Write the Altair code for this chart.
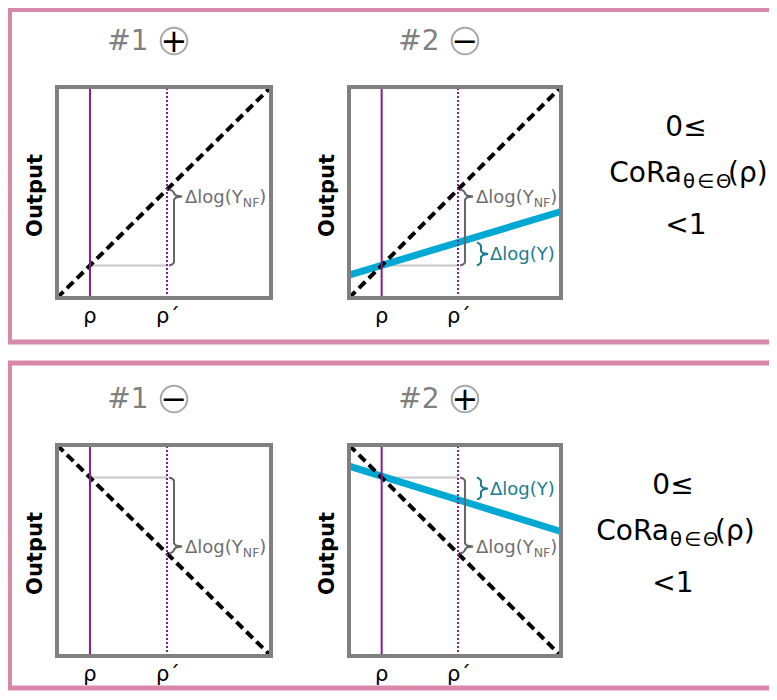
import altair as alt
import pandas as pd

# ---------------- values ----------------
row_ids = [0, 1]
panel_ids = [0, 1]
panel_titles = ["#1", "#2"]
panel_signs = [["+", "\u2212"], ["\u2212", "+"]]   # [row][panel]
rho_x = 0.154          # position of rho on the panel x axis (0..1)
rho_prime_x = 0.514    # position of rho'
dashed_y_left = [0.0, 1.0]    # no-feedback line: y at x=0, per row
dashed_y_right = [1.0, 0.0]   # y at x=1
blue_y_left = [0.108, 0.90]   # response line in panel #2, per row
blue_y_right = [0.41, 0.59]
x_tick_labels = ["ρ", "ρ\u00b4"]
y_title = "Output"
bound_low = "0≤"
bound_high = "<1"
cora_main = "CoRa"
cora_sub = "θ\u200a∈\u200aΘ"
cora_arg = "(ρ)"
nf_main = "Δlog(Y"
nf_sub = "NF"
nf_close = ")"
dy_label = "Δlog(Y)"

# ---------------- layout (page pixels) ----------------
OX, OY = 8, 8
W_SVG, H_SVG = 761, 684
ROW_DY = 358
BOX_X = [(57, 271), (349, 561)]
BOX_Y = (87, 298)
PINK_ROWS = [(9.5, 342), (363, 688)]
PINK_X = (9.5, 830)
TITLE_X = [128, 419]
CIRCLE_X = [174, 465]
RIGHT_X = [686, 673]
CORA_ANCHOR = [682, 669]
CORA_PAREN = [728, 715]

PINK = "#d888a8"
BOXGRAY = "#808080"
PURPLE = "#8b1a8b"
BLUE = "#00a9d4"
TEAL = "#1b7d8e"
LABELGRAY = "#6f6f6f"
FONT = "DejaVu Sans"

# DejaVu Sans advance widths (em)
WID = {'Δ': 0.684, 'l': 0.278, 'o': 0.612, 'g': 0.635, '(': 0.390, ')': 0.390,
       'Y': 0.611, 'N': 0.748, 'F': 0.575}


def tw(s, size):
    return sum(WID.get(c, 0.6) for c in s) * size


def px(p, x):
    l, r = BOX_X[p]
    return l + x * (r - l)


def py(r, y):
    t, b = BOX_Y
    return b + r * ROW_DY - y * (b - t)


XS = alt.Scale(domain=[OX, OX + W_SVG], nice=False, zero=False)
YS = alt.Scale(domain=[OY, OY + H_SVG], nice=False, zero=False, reverse=True)


def enc_xy(extra2=True):
    d = dict(x=alt.X("x:Q", scale=XS, axis=None), y=alt.Y("y:Q", scale=YS, axis=None))
    if extra2:
        d["x2"] = "x2:Q"
        d["y2"] = "y2:Q"
    return d


# ---------------- build tables ----------------
pink = pd.DataFrame([dict(x=PINK_X[0], x2=PINK_X[1], y=a, y2=b) for a, b in PINK_ROWS])

boxes, hlines, blues, dashes, solid_v, dotted_v = [], [], [], [], [], []
braces_gray, braces_teal = [], []
circles = []
t_title, t_sign, t_out, t_rho_c, t_rho_l = [], [], [], [], []
t_nf_main, t_nf_sub, t_teal = [], [], []
t_right_c, t_cora_main, t_cora_sub, t_cora_arg = [], [], [], []


def brace(lst, bid, xe, xv, xt, ya, yb, yt):
    s = 1 if yb > ya else -1
    pts = [(xe, ya), (xv - 2, ya + s * 1), (xv, ya + s * 3), (xv, yt - s * 3),
           (xv + 2, yt - s * 1), (xt, yt), (xv + 2, yt + s * 1), (xv, yt + s * 3),
           (xv, yb - s * 3), (xv - 2, yb - s * 1), (xe, yb)]
    for i, (a, b) in enumerate(pts):
        lst.append(dict(id=bid, i=i, x=a, y=b))


for r in row_ids:
    yd_rho = dashed_y_left[r] + (dashed_y_right[r] - dashed_y_left[r]) * rho_x
    yd_rp = dashed_y_left[r] + (dashed_y_right[r] - dashed_y_left[r]) * rho_prime_x
    yb_rp = blue_y_left[r] + (blue_y_right[r] - blue_y_left[r]) * rho_prime_x
    for p in panel_ids:
        boxes.append(dict(x=px(p, 0), x2=px(p, 1), y=py(r, 1), y2=py(r, 0)))
        dashes.append(dict(x=px(p, 0), x2=px(p, 1), y=py(r, dashed_y_left[r]), y2=py(r, dashed_y_right[r])))
        solid_v.append(dict(x=px(p, rho_x), x2=px(p, rho_x), y=py(r, 0), y2=py(r, 1)))
        dotted_v.append(dict(x=px(p, rho_prime_x), x2=px(p, rho_prime_x), y=py(r, 0), y2=py(r, 1)))
        hlines.append(dict(x=px(p, rho_x), x2=px(p, rho_prime_x), y=py(r, yd_rho), y2=py(r, yd_rho)))
        xr = px(p, rho_prime_x)
        ya = py(r, yd_rho)
        yb = py(r, yd_rp)
        s = 1 if yb > ya else -1
        yt = yb - s * 7
        brace(braces_gray, f"g{r}{p}", xr + 2, xr + 7, xr + 15, ya, yb, yt)
        lx = xr + 18
        bl = yt + 6.5
        t_nf_main.append(dict(x=lx, y=bl, t=nf_main))
        t_nf_sub.append(dict(x=lx + tw(nf_main, 18), y=bl + 4, t=nf_sub))
        t_nf_main.append(dict(x=lx + tw(nf_main, 18) + tw(nf_sub, 12.5), y=bl, t=nf_close))
        if p == 1:
            blues.append(dict(x=px(p, 0), x2=px(p, 1), y=py(r, blue_y_left[r]), y2=py(r, blue_y_right[r])))
            yc = py(r, yb_rp)
            ytt = (ya + yc) / 2
            brace(braces_teal, f"t{r}{p}", xr + 19, xr + 23, xr + 30, ya, yc, ytt)
            t_teal.append(dict(x=xr + 32, y=ytt + 6.5, t=dy_label))
        # titles
        t_title.append(dict(x=TITLE_X[p], y=50 + r * ROW_DY, t=panel_titles[p]))
        circles.append(dict(x=CIRCLE_X[p], y=41 + r * ROW_DY))
        t_sign.append(dict(x=CIRCLE_X[p], y=52 + r * ROW_DY, t=panel_signs[r][p]))
        t_out.append(dict(x=BOX_X[p][0] - 15, y=(py(r, 0) + py(r, 1)) / 2 + 3, t=y_title))
        t_rho_c.append(dict(x=px(p, rho_x), y=323 + r * ROW_DY, t=x_tick_labels[0]))
        t_rho_l.append(dict(x=px(p, rho_prime_x) - 11, y=323 + r * ROW_DY, t=x_tick_labels[1]))
    t_right_c.append(dict(x=RIGHT_X[r], y=136 + r * ROW_DY, t=bound_low))
    t_right_c.append(dict(x=RIGHT_X[r], y=234 + r * ROW_DY, t=bound_high))
    t_cora_main.append(dict(x=CORA_ANCHOR[r], y=182 + r * ROW_DY, t=cora_main))
    t_cora_sub.append(dict(x=CORA_ANCHOR[r] + 1, y=188 + r * ROW_DY, t=cora_sub))
    t_cora_arg.append(dict(x=CORA_PAREN[r], y=182 + r * ROW_DY, t=cora_arg))

D = pd.DataFrame


def rules(rows, **kw):
    return alt.Chart(D(rows)).mark_rule(**kw).encode(**enc_xy())


def rects(rows, **kw):
    return alt.Chart(D(rows)).mark_rect(fillOpacity=0, **kw).encode(**enc_xy())


def lines(rows, **kw):
    return alt.Chart(D(rows)).mark_line(**kw).encode(
        **enc_xy(False), detail="id:N", order="i:Q")


def texts(rows, **kw):
    kw.setdefault("font", FONT)
    kw.setdefault("baseline", "alphabetic")
    return alt.Chart(D(rows)).mark_text(**kw).encode(**enc_xy(False), text="t:N")


layers = [
    rects(pink.to_dict("records"), stroke=PINK, strokeWidth=5),
    rules(hlines, color="#c8c8c8", strokeWidth=2),
    rules(blues, color=BLUE, strokeWidth=7),
    rules(dashes, color="black", strokeWidth=4, strokeDash=[9, 5]),
    rules(solid_v, color=PURPLE, strokeWidth=2),
    rules(dotted_v, color=PURPLE, strokeWidth=2, strokeDash=[2, 2]),
    rects(boxes, stroke=BOXGRAY, strokeWidth=4),
    lines(braces_gray, color="#666666", strokeWidth=2),
    lines(braces_teal, color=TEAL, strokeWidth=2),
    alt.Chart(D(circles)).mark_point(shape="circle", size=707, filled=False,
                                     stroke="#a8a8a8", strokeWidth=2, opacity=1).encode(**enc_xy(False)),
    texts(t_title, fontSize=28, color=BOXGRAY, align="center"),
    texts(t_sign, fontSize=32, color="black", align="center"),
    texts(t_out, fontSize=21, fontWeight="bold", color="black", align="center", angle=270),
    texts(t_rho_c, fontSize=21, color="black", align="center"),
    texts(t_rho_l, fontSize=21, color="black", align="left"),
    texts(t_nf_main, fontSize=18, color=LABELGRAY, align="left"),
    texts(t_nf_sub, fontSize=12.5, color=LABELGRAY, align="left"),
    texts(t_teal, fontSize=18, color=TEAL, align="left"),
    texts(t_right_c, fontSize=28, color="black", align="center"),
    texts(t_cora_main, fontSize=28, color="black", align="right"),
    texts(t_cora_sub, fontSize=19.6, color="black", align="left"),
    texts(t_cora_arg, fontSize=28, color="black", align="left"),
]

chart = alt.layer(*layers).properties(
    width=W_SVG, height=H_SVG,
    autosize=alt.AutoSizeParams(type="none"),
    padding=0,
    background="white",
).configure_view(stroke=None)

chart.save("out.html", embed_options={"renderer": "svg", "actions": False})
